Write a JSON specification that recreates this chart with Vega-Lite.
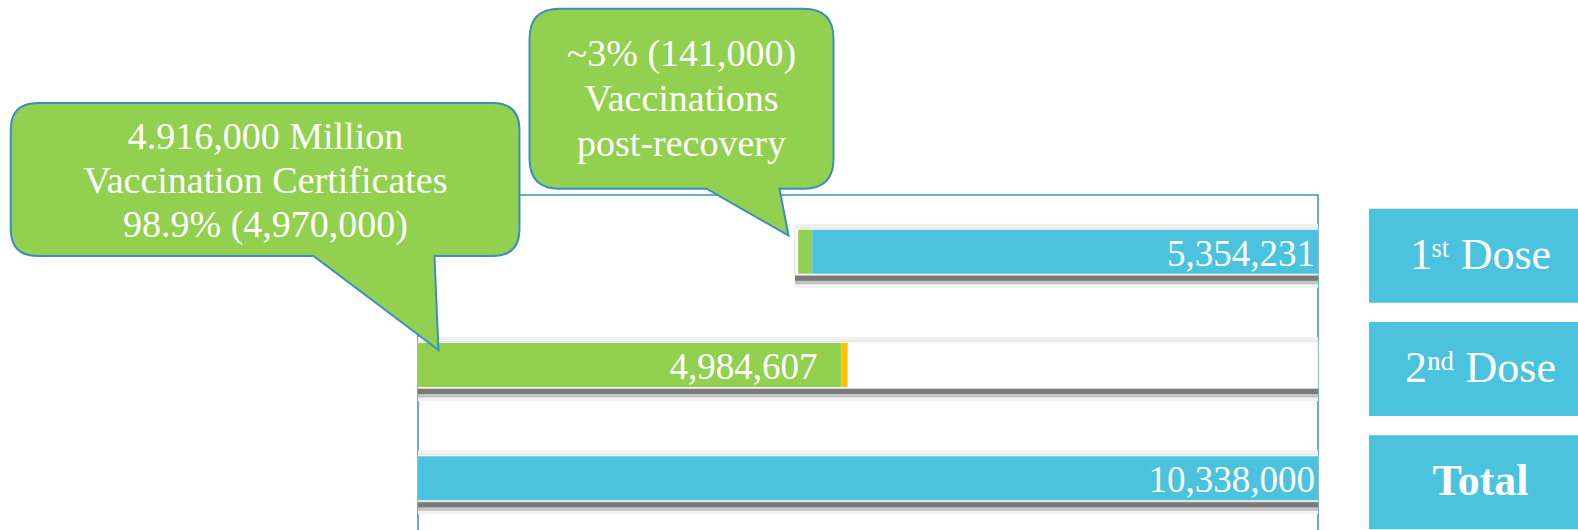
{
  "$schema": "https://vega.github.io/schema/vega-lite/v6.json",
  "padding": {"left": 6, "top": 3, "right": 0, "bottom": 0},
  "autosize": {"type": "pad"},
  "background": "white",
  "config": {"view": {"stroke": null}, "concat": {"spacing": 49}, "text": {"font": "Liberation Serif"}},
  "datasets": {
    "rows": [
      {"row": "1st Dose", "start": 4330000, "end": 10338000},
      {"row": "2nd Dose", "start": 0, "end": 10338000},
      {"row": "Total", "start": 0, "end": 10338000}
    ],
    "segments": [
      {"row": "1st Dose", "series": "Post-recovery", "start": 4367000, "end": 4528000, "label": null},
      {"row": "1st Dose", "series": "Doses", "start": 4528000, "end": 10338000, "label": "5,354,231"},
      {"row": "2nd Dose", "series": "Certificates", "start": 0, "end": 4865000, "label": "4,984,607"},
      {"row": "2nd Dose", "series": "Other", "start": 4865000, "end": 4934000, "label": null},
      {"row": "Total", "series": "Doses", "start": 0, "end": 10338000, "label": "10,338,000"}
    ],
    "callouts": [
      {"row": "2nd Dose", "at": 235000, "text": "4.916,000 Million\nVaccination Certificates\n98.9% (4,970,000)"},
      {"row": "1st Dose", "at": 4256000, "text": "~3% (141,000)\nVaccinations\npost-recovery"}
    ],
    "labels": [
      {"row": "1st Dose", "name": "1ˢᵗ Dose"},
      {"row": "2nd Dose", "name": "2ⁿᵈ Dose"},
      {"row": "Total", "name": "Total"}
    ]
  },
  "hconcat": [
    {
      "width": 900,
      "height": 340,
      "view": {"stroke": "#3b8ec2", "strokeWidth": 1.5},
      "encoding": {
        "y": {"field": "row", "type": "nominal", "axis": null,
              "scale": {"domain": ["1st Dose", "2nd Dose", "Total"], "paddingInner": 0, "paddingOuter": 0}}
      },
      "layer": [
        {
          "data": {"name": "rows"},
          "mark": {"type": "bar", "height": 64, "yOffset": 4, "color": "#f1f1f1"},
          "encoding": {
            "x": {"field": "start", "type": "quantitative", "axis": null, "scale": {"domain": [0, 10338000], "nice": false, "zero": true}},
            "x2": {"field": "end"}
          }
        },
        {
          "data": {"name": "rows"},
          "mark": {"type": "bar", "height": 45, "yOffset": 10, "color": "#c4c4c4"},
          "encoding": {
            "x": {"field": "start", "type": "quantitative", "axis": null, "scale": {"domain": [0, 10338000], "nice": false, "zero": true}},
            "x2": {"field": "end"}
          }
        },
        {
          "data": {"name": "rows"},
          "mark": {"type": "bar", "height": 45, "yOffset": 6.5, "color": "#7a7a7a"},
          "encoding": {
            "x": {"field": "start", "type": "quantitative", "axis": null, "scale": {"domain": [0, 10338000], "nice": false, "zero": true}},
            "x2": {"field": "end"}
          }
        },
        {
          "data": {"name": "rows"},
          "mark": {"type": "bar", "height": 47, "yOffset": 0, "color": "#ffffff", "stroke": "#dcdcdc", "strokeWidth": 0.8},
          "encoding": {
            "x": {"field": "start", "type": "quantitative", "axis": null, "scale": {"domain": [0, 10338000], "nice": false, "zero": true}},
            "x2": {"field": "end"}
          }
        },
        {
          "data": {"name": "segments"},
          "mark": {"type": "bar", "height": 44},
          "encoding": {
            "x": {"field": "start", "type": "quantitative", "axis": null, "scale": {"domain": [0, 10338000], "nice": false, "zero": true}},
            "x2": {"field": "end"},
            "color": {"field": "series", "type": "nominal", "legend": null,
                      "scale": {"domain": ["Doses", "Certificates", "Post-recovery", "Other"], "range": ["#4bc3de", "#92d050", "#92d050", "#ffc000"]}}
          }
        },
        {
          "data": {"name": "segments"},
          "transform": [{"filter": "isValid(datum.label) && datum.row !== '2nd Dose'"}],
          "mark": {"type": "text", "align": "right", "baseline": "middle", "dx": -3, "dy": 3, "fontSize": 37, "color": "#ffffff", "font": "Liberation Serif"},
          "encoding": {
            "x": {"field": "end", "type": "quantitative", "axis": null, "scale": {"domain": [0, 10338000], "nice": false, "zero": true}},
            "text": {"field": "label", "type": "nominal"}
          }
        },
        {
          "data": {"name": "segments"},
          "transform": [{"filter": "isValid(datum.label) && datum.row === '2nd Dose'"}],
          "mark": {"type": "text", "align": "right", "baseline": "middle", "dx": -24, "dy": 3, "fontSize": 37, "color": "#ffffff", "font": "Liberation Serif"},
          "encoding": {
            "x": {"field": "end", "type": "quantitative", "axis": null, "scale": {"domain": [0, 10338000], "nice": false, "zero": true}},
            "text": {"field": "label", "type": "nominal"}
          }
        },
        {
          "data": {"name": "callouts"},
          "transform": [{"filter": "datum.row === '2nd Dose'"}],
          "mark": {"type": "point", "shape": "M -400.7 -247 L 54 -247 Q 81 -247 81 -220 L 81 -121 Q 81 -94 54 -94 L -4 -94 L 0 0 L -125 -94 L -400.7 -94 Q -427.7 -94 -427.7 -121 L -427.7 -220 Q -427.7 -247 -400.7 -247 Z",
                   "size": 4, "filled": true, "opacity": 1, "fill": "#92d050", "stroke": "#3b8ec2", "strokeWidth": 2, "yOffset": -15},
          "encoding": {
            "x": {"field": "at", "type": "quantitative", "axis": null, "scale": {"domain": [0, 10338000], "nice": false, "zero": true}}
          }
        },
        {
          "data": {"name": "callouts"},
          "transform": [{"filter": "datum.row === '2nd Dose'"}],
          "mark": {"type": "text", "lineBreak": "\n", "align": "center", "baseline": "alphabetic", "dx": -173, "dy": -201, "lineHeight": 44,
                   "fontSize": 38, "color": "#ffffff", "font": "Liberation Serif", "yOffset": -15},
          "encoding": {
            "x": {"field": "at", "type": "quantitative", "axis": null, "scale": {"domain": [0, 10338000], "nice": false, "zero": true}},
            "text": {"field": "text", "type": "nominal"}
          }
        },
        {
          "data": {"name": "callouts"},
          "transform": [{"filter": "datum.row === '1st Dose'"}],
          "mark": {"type": "point", "shape": "M -229 -227 L 15 -227 Q 45 -227 45 -197 L 45 -77 Q 45 -47 15 -47 L -9 -47 L 0 0 L -82 -47 L -229 -47 Q -259 -47 -259 -77 L -259 -197 Q -259 -227 -229 -227 Z",
                   "size": 4, "filled": true, "opacity": 1, "fill": "#92d050", "stroke": "#3b8ec2", "strokeWidth": 2, "yOffset": -16},
          "encoding": {
            "x": {"field": "at", "type": "quantitative", "axis": null, "scale": {"domain": [0, 10338000], "nice": false, "zero": true}}
          }
        },
        {
          "data": {"name": "callouts"},
          "transform": [{"filter": "datum.row === '1st Dose'"}],
          "mark": {"type": "text", "lineBreak": "\n", "align": "center", "baseline": "alphabetic", "dx": -107, "dy": -170, "lineHeight": 45,
                   "fontSize": 38, "color": "#ffffff", "font": "Liberation Serif", "yOffset": -16},
          "encoding": {
            "x": {"field": "at", "type": "quantitative", "axis": null, "scale": {"domain": [0, 10338000], "nice": false, "zero": true}},
            "text": {"field": "text", "type": "nominal"}
          }
        }
      ]
    },
    {
      "width": 209,
      "height": 340,
      "data": {"name": "labels"},
      "encoding": {
        "y": {"field": "row", "type": "nominal", "axis": null,
              "scale": {"domain": ["1st Dose", "2nd Dose", "Total"], "paddingInner": 0, "paddingOuter": 0}}
      },
      "layer": [
        {"mark": {"type": "bar", "height": 94, "yOffset": 4, "color": "#4bc3de"}},
        {
          "transform": [{"filter": "datum.row !== 'Total'"}],
          "mark": {"type": "text", "fontSize": 44, "color": "#ffffff", "dx": 7, "yOffset": 4, "baseline": "middle", "font": "Liberation Serif, DejaVu Serif"},
          "encoding": {"text": {"field": "name", "type": "nominal"}}
        },
        {
          "transform": [{"filter": "datum.row === 'Total'"}],
          "mark": {"type": "text", "fontSize": 44, "fontWeight": "bold", "color": "#ffffff", "dx": 7, "yOffset": 4, "baseline": "middle", "font": "Liberation Serif"},
          "encoding": {"text": {"field": "name", "type": "nominal"}}
        }
      ]
    }
  ]
}
